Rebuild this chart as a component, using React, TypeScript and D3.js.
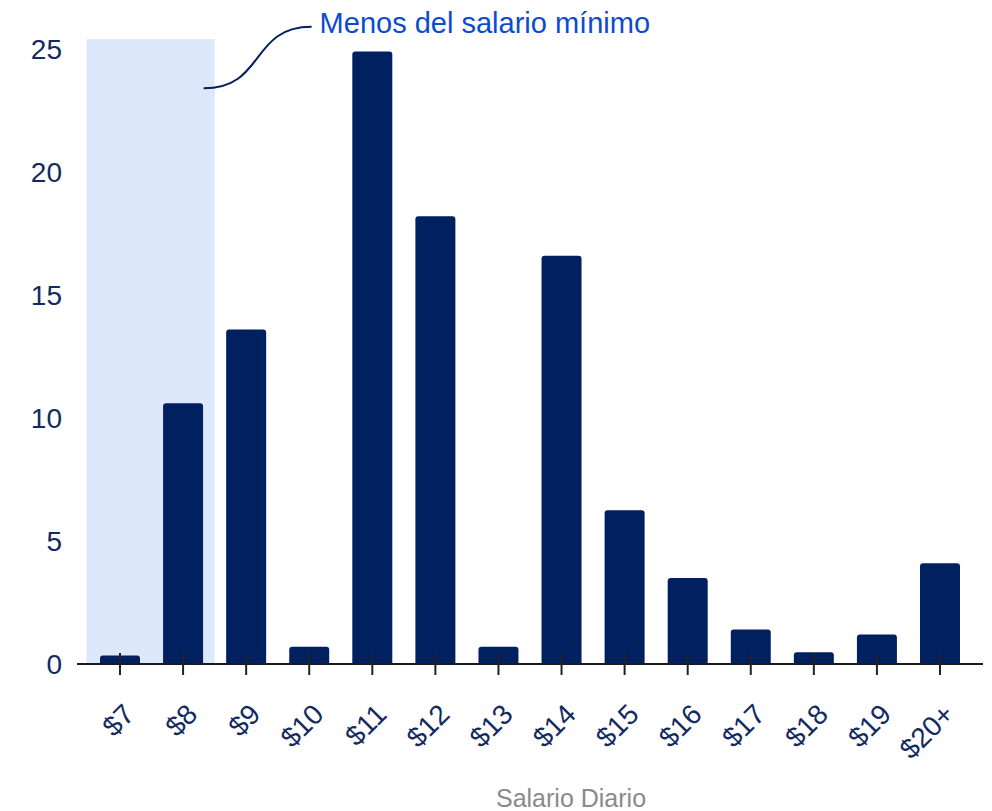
import React from "react";
import * as d3 from "d3";

const categories = ["$7", "$8", "$9", "$10", "$11", "$12", "$13", "$14", "$15", "$16", "$17", "$18", "$19", "$20+"];
const values = [0.35, 10.6, 13.6, 0.7, 24.9, 18.2, 0.7, 16.6, 6.25, 3.5, 1.4, 0.48, 1.2, 4.1];
const yTicks = [0, 5, 10, 15, 20, 25];
const shadedCategories = ["$7", "$8"];
const shadedTop = 25.4;
const annotationText = "Menos del salario mínimo";
const xTitle = "Salario Diario";

const W = 992;
const H = 811;

export default function App() {
  const x = d3.scalePoint<string>().domain(categories).range([120, 940]);
  const step = x.step();
  const barW = step * 0.634;
  const y = d3.scaleLinear().domain([0, 25]).range([664, 49]);
  const y0 = y(0);

  const shadeX0 = (x(shadedCategories[0]) as number) - step / 2 - 2;
  const shadeX1 = (x(shadedCategories[shadedCategories.length - 1]) as number) + step / 2;

  const barPath = (cx: number, v: number) => {
    const x0 = cx - barW / 2;
    const x1 = cx + barW / 2;
    const top = y(v);
    const r = Math.min(3, (y0 - top) / 2);
    return `M${x0},${y0} L${x0},${top + r} Q${x0},${top} ${x0 + r},${top} L${x1 - r},${top} Q${x1},${top} ${x1},${top + r} L${x1},${y0} Z`;
  };

  // annotation curve
  const ax0 = shadeX1 - 11;
  const ay0 = y(23.4);
  const ax1 = ax0 + 108;
  const ay1 = y(25.9);
  const curve = `M${ax0},${ay0} C${ax0 + 62},${ay0} ${ax1 - 62},${ay1} ${ax1},${ay1}`;

  const navy = "#002060";
  const labelColor = "#142a62";
  const font = "'Liberation Sans', Arial, sans-serif";

  return (
    <svg width={W} height={H} style={{ position: "absolute", left: 0, top: 0, background: "#fff" }} fontFamily={font}>
      <rect x={shadeX0} y={y(shadedTop)} width={shadeX1 - shadeX0} height={y0 - y(shadedTop)} fill="#dee8fb" />
      {yTicks.map((t) => (
        <text key={t} x={62} y={y(t)} dy="0.35em" textAnchor="end" fontSize={28} fill={labelColor}>
          {t}
        </text>
      ))}
      {categories.map((c, i) => (
        <path key={c} d={barPath(x(c) as number, values[i])} fill={navy} />
      ))}
      <line x1={(x(categories[0]) as number) - 43} x2={(x(categories[categories.length - 1]) as number) + 43} y1={y0} y2={y0} stroke="#1a1a1a" strokeWidth={1.8} />
      {categories.map((c) => (
        <line key={c} x1={x(c) as number} x2={x(c) as number} y1={y0 - 11} y2={y0 + 11} stroke="#222" strokeWidth={2} />
      ))}
      {categories.map((c) => (
        <text
          key={c}
          transform={`translate(${(x(c) as number) + 9},${y0 + 45}) rotate(-45)`}
          dy="0.35em"
          textAnchor="end"
          fontSize={28}
          fill={labelColor}
        >
          {c}
        </text>
      ))}
      <text x={(x(categories[0])! + x(categories[categories.length - 1])!) / 2 + 41} y={807} textAnchor="middle" fontSize={25} fill="#8a8a8a">
        {xTitle}
      </text>
      <path d={curve} fill="none" stroke={navy} strokeWidth={2} />
      <text x={ax1 + 8} y={33} fontSize={29} fill="#0a4bd1">
        {annotationText}
      </text>
    </svg>
  );
}
